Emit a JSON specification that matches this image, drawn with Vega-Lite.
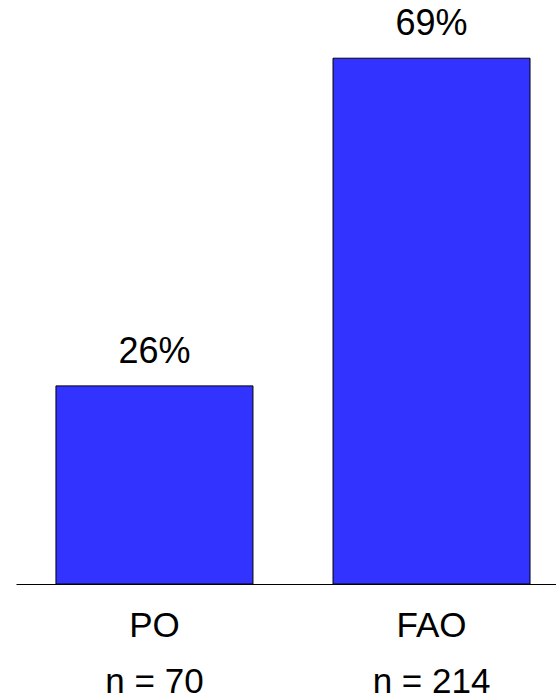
{
  "$schema": "https://vega.github.io/schema/vega-lite/v6.json",
  "width": 540,
  "height": 584,
  "padding": {"left": 16, "top": 0, "right": 0, "bottom": 112},
  "autosize": {"type": "none"},
  "background": "white",
  "config": {"view": {"stroke": null}, "font": "Liberation Sans"},
  "data": {"values": [
    {"group": "PO", "label": "PO|n = 70", "pct": 26, "text": "26%"},
    {"group": "FAO", "label": "FAO|n = 214", "pct": 69, "text": "69%"}
  ]},
  "encoding": {
    "x": {
      "field": "label", "type": "nominal", "sort": null,
      "scale": {"paddingInner": 0.289, "paddingOuter": 0.119, "align": 0.606},
      "axis": {
        "title": null, "labelAngle": 0, "ticks": false, "tickSize": 0,
        "domainColor": "black", "domainWidth": 1,
        "labelExpr": "split(datum.value, '|')",
        "labelFont": "Liberation Sans", "labelFontSize": 35, "labelColor": "black",
        "labelBaseline": "alphabetic", "labelPadding": 52, "labelLineHeight": 56,
        "labelFlush": false, "labelOverlap": false
      }
    },
    "y": {
      "field": "pct", "type": "quantitative",
      "scale": {"domain": [0, 76.64], "nice": false},
      "axis": null
    }
  },
  "layer": [
    {"mark": {"type": "bar", "color": "#3333FF", "stroke": "black", "strokeWidth": 1}},
    {"mark": {"type": "text", "baseline": "alphabetic", "dy": -23, "fontSize": 36, "font": "Liberation Sans", "color": "black"},
     "encoding": {"text": {"field": "text"}}}
  ]
}
